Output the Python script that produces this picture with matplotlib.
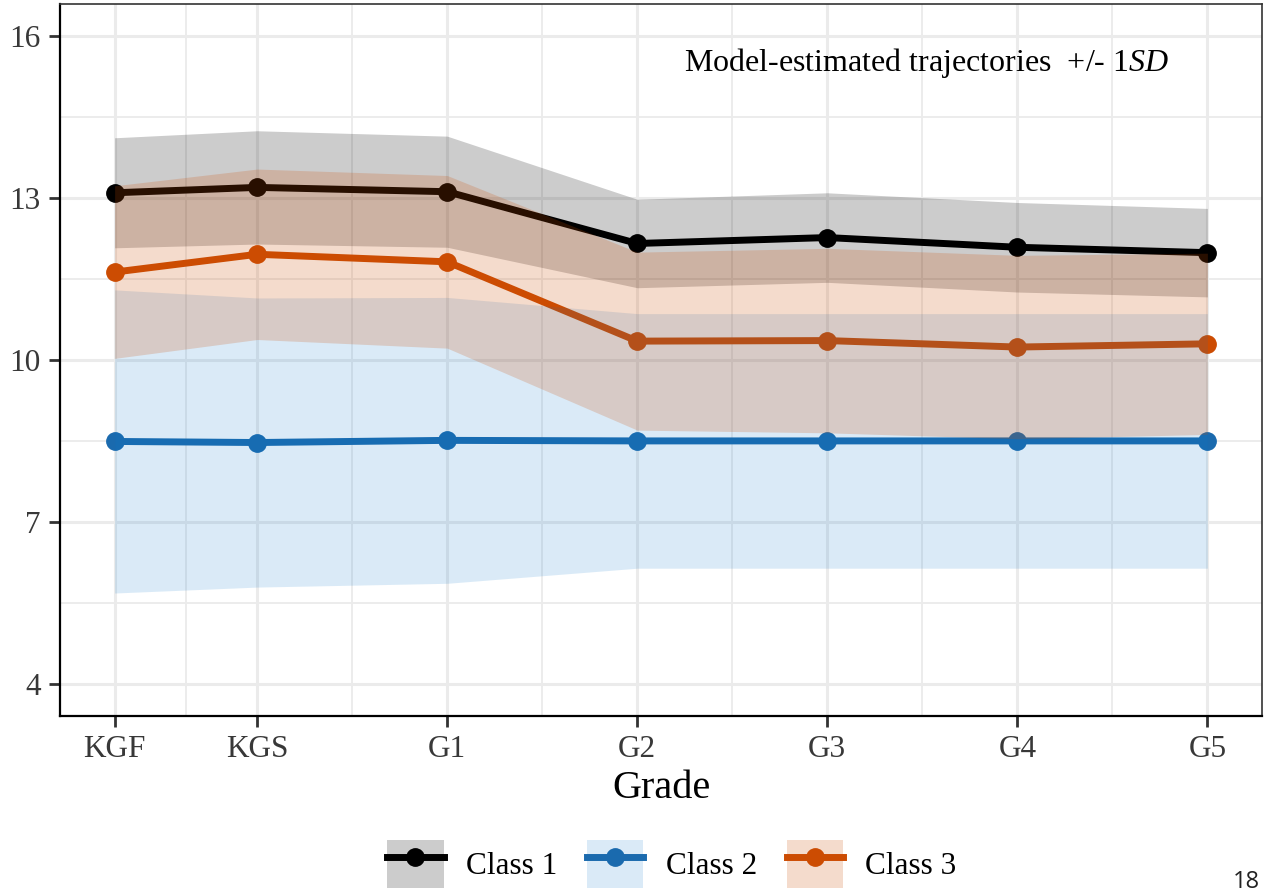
import matplotlib
matplotlib.use('Agg')
import matplotlib.pyplot as plt
from matplotlib.patches import Patch
from matplotlib.lines import Line2D
from matplotlib.legend_handler import HandlerTuple

# ---------------- data ----------------
grades = ['KGF', 'KGS', 'G1', 'G2', 'G3', 'G4', 'G5']
grade_time = [0, 0.75, 1.75, 2.75, 3.75, 4.75, 5.75]
minor_time = [0.375, 1.25, 2.25, 3.25, 4.25, 5.25]

class_names = ['Class 1', 'Class 2', 'Class 3']
class1_mean = [13.10, 13.20, 13.12, 12.16, 12.27, 12.09, 11.99]
class1_sd = [1.02, 1.05, 1.03, 0.82, 0.83, 0.83, 0.82]
class2_mean = [8.49, 8.47, 8.51, 8.50, 8.50, 8.50, 8.50]
class2_sd = [2.81, 2.68, 2.65, 2.36, 2.36, 2.36, 2.36]
class3_mean = [11.63, 11.96, 11.82, 10.35, 10.36, 10.24, 10.30]
class3_sd = [1.60, 1.58, 1.60, 1.65, 1.71, 1.70, 1.68]

y_ticks = [4, 7, 10, 13, 16]
y_minor = [5.5, 8.5, 11.5, 14.5]

means = [class1_mean, class2_mean, class3_mean]
sds = [class1_sd, class2_sd, class3_sd]
line_colors = ['#000000', '#1a6aae', '#cc4c02']
fill_colors = ['#000000', '#0a78cc', '#cc4c02']
ribbon_alpha = [0.2, 0.15, 0.2]

# ---------------- fonts ----------------
plt.rcParams['font.family'] = ['Liberation Serif', 'DejaVu Serif']
plt.rcParams['mathtext.fontset'] = 'custom'
plt.rcParams['mathtext.rm'] = 'Liberation Serif'
plt.rcParams['mathtext.it'] = 'Liberation Serif:italic'

W, H = 1264, 892
fig = plt.figure(figsize=(W / 100, H / 100), dpi=100)
ax = fig.add_axes([60 / W, 1 - 716 / H, 1202 / W, 712 / H])

# grid
ax.set_xticks(grade_time)
ax.set_xticks(minor_time, minor=True)
ax.set_yticks(y_ticks)
ax.set_yticks(y_minor, minor=True)
ax.set_axisbelow(True)
ax.grid(which='major', color='#ebebeb', linewidth=2.2, zorder=0)
ax.grid(which='minor', color='#ebebeb', linewidth=1.3, zorder=0)

# lines + points (drawn under the ribbons)
for m, c in zip(means, line_colors):
    ax.plot(grade_time, m, color=c, linewidth=5, marker='o',
            markersize=12.5, zorder=2, solid_capstyle='butt')

# ribbons
for m, s, c, a in zip(means, sds, fill_colors, ribbon_alpha):
    lo = [mi - si for mi, si in zip(m, s)]
    hi = [mi + si for mi, si in zip(m, s)]
    ax.fill_between(grade_time, lo, hi, color=c, alpha=a, linewidth=0, zorder=3)

ax.set_xlim(-0.2875, 6.0375)
ax.set_ylim(3.4, 16.6)
ax.set_xticklabels(grades)
ax.set_yticklabels([str(t) for t in y_ticks])

ax.tick_params(which='major', length=8, width=2, color='#333333',
               labelsize=22.5, labelcolor='#383838', pad=6)
ax.tick_params(which='minor', length=0)

for side in ['left', 'bottom']:
    ax.spines[side].set_color('#000000')
    ax.spines[side].set_linewidth(1.6)
for side in ['top', 'right']:
    ax.spines[side].set_color('#333333')
    ax.spines[side].set_linewidth(1.2)

ax.text(4.27, 15.5, r'Model-estimated trajectories  +/- 1$SD$',
        ha='center', va='center', fontsize=23, color='black', zorder=5)

fig.text(661 / W, 1 - 789 / H, 'Grade', ha='center', va='center', fontsize=29)

# legend
handles = []
for lc, fc, a in zip(line_colors, fill_colors, ribbon_alpha):
    p = Patch(facecolor=fc, alpha=a, edgecolor='none')
    l = Line2D([0], [0], color=lc, linewidth=5, marker='o', markersize=12.5)
    handles.append((p, l))
fig.legend(handles, class_names, loc='center',
           bbox_to_anchor=(672 / W, 1 - 864 / H), ncol=3, frameon=False,
           fontsize=22.5, handlelength=1.8, handleheight=2.0,
           handletextpad=0.72, columnspacing=0.95, borderpad=0, borderaxespad=0,
           handler_map={tuple: HandlerTuple(ndivide=1, pad=0)}, numpoints=1)

fig.text(1260 / W, 1 - 888 / H, '18', ha='right', va='baseline',
         fontsize=17, family=['Open Sans', 'DejaVu Sans'], color='#222222')

fig.savefig('out.png', dpi=100)
